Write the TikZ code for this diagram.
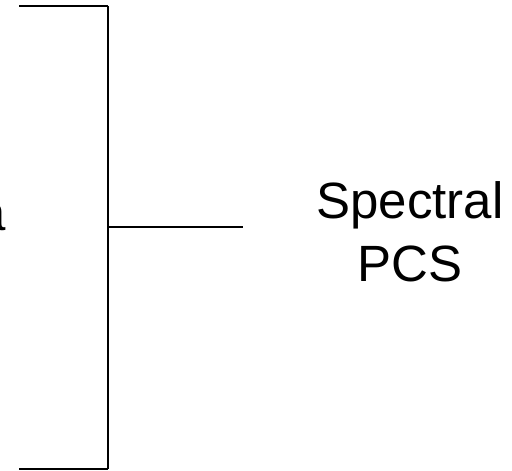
\documentclass[tikz,border=0pt]{standalone}
\usepackage{fontspec}
\setmainfont{Liberation Sans}
\begin{document}
\begin{tikzpicture}[x=1pt,y=1pt,
  hline/.style={line width=1.5pt,black},
  vline/.style={line width=2.2pt,black},
  lbl/.style={font=\fontsize{51}{55}\selectfont,align=center,inner sep=0pt}]
\useasboundingbox (0,0) rectangle (512,471);
\coordinate (tl) at (19,465);
\coordinate (tr) at (108,465);
\coordinate (bl) at (19,2);
\coordinate (br) at (108,2);
\coordinate (mid) at (108,244);
\coordinate (midend) at (243,244);
\draw[vline] (tr) -- (br);
\draw[hline] (tl) -- (tr);
\draw[hline] (bl) -- (br);
\draw[hline] (mid) -- (midend);
\node[lbl,anchor=base] (spec) at (410,252) {Spectral};
\node[lbl,anchor=base] (pcs) at (410,189) {PCS};
\node[lbl,anchor=base east] (a) at (6,240) {a};
\end{tikzpicture}
\end{document}
